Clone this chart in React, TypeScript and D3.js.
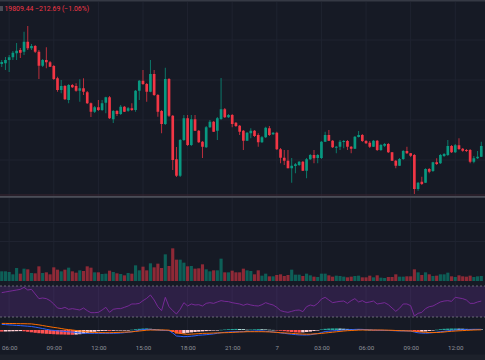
import { useEffect, useRef } from "react";
import * as d3 from "d3";

const W = 485;
const H = 360;
const BG = "#161a25";
const GRID = "#1f2330";
const UP = "#089981";
const DOWN = "#f23645";

const START = new Date(2024, 0, 6, 5, 30);
const STEP_MIN = 15;
const VIEW = [new Date(2024, 0, 6, 5, 23), new Date(2024, 0, 7, 14, 0)];

const HEADER = "19809.44 \u2212212.69 (\u22121.06%)";
const TIME_LABELS = ["06:00", "09:00", "12:00", "15:00", "18:00", "21:00", "7", "03:00", "06:00", "09:00", "12:00"];
const GRID_PRICES = [20240, 20080, 19920, 19760];

// open, high, low, close (15 min bars)
const OHLC: [number, number, number, number][] = [
  [20144, 20160, 20132, 20152], [20147, 20172, 20120, 20160], [20160, 20180, 20112, 20171], [20171, 20196, 20160, 20189],
  [20187, 20228, 20160, 20197], [20200, 20208, 20168, 20189], [20193, 20273, 20180, 20233], [20233, 20296, 20200, 20207],
  [20207, 20224, 20200, 20216], [20216, 20220, 20188, 20193], [20193, 20200, 20084, 20137], [20137, 20164, 20132, 20160],
  [20160, 20211, 20127, 20151], [20151, 20156, 20132, 20133], [20136, 20140, 20080, 20084], [20087, 20093, 20033, 20040],
  [20040, 20080, 20027, 20056], [20056, 20060, 20000, 20003], [20000, 20064, 19987, 20060], [20060, 20064, 20048, 20051],
  [20056, 20067, 20033, 20037], [20037, 20083, 19993, 20047], [20047, 20087, 20020, 20033], [20031, 20036, 19984, 19987],
  [19987, 19990, 19932, 19953], [19953, 19976, 19948, 19971], [19971, 20000, 19956, 19960], [19960, 20000, 19956, 19987],
  [19989, 20013, 19947, 20011], [20011, 20016, 19924, 19927], [19923, 19960, 19908, 19956], [19956, 19960, 19936, 19944],
  [19944, 19980, 19940, 19973], [19973, 19976, 19952, 19953], [19957, 19972, 19953, 19967], [19967, 19987, 19956, 19960],
  [19960, 20040, 19953, 20037], [20037, 20080, 20000, 20077], [20077, 20120, 20060, 20064], [20064, 20068, 19993, 20033],
  [20033, 20160, 20031, 20104], [20104, 20120, 20016, 20020], [20020, 20024, 19933, 19953], [19956, 19960, 19867, 19904],
  [19904, 20129, 19900, 20084], [20084, 20088, 19932, 19937], [19937, 19940, 19720, 19760], [19763, 19812, 19692, 19697],
  [19697, 19844, 19692, 19840], [19840, 19940, 19836, 19927], [19927, 19940, 19816, 19820], [19820, 19940, 19816, 19923],
  [19923, 19940, 19876, 19877], [19877, 19880, 19828, 19831], [19833, 19836, 19768, 19813], [19811, 19896, 19808, 19891],
  [19891, 19920, 19888, 19913], [19913, 19916, 19872, 19873], [19877, 19932, 19840, 19927], [19924, 20088, 19920, 19963],
  [19963, 19968, 19928, 19931], [19931, 19944, 19928, 19940], [19940, 19944, 19891, 19904], [19909, 19912, 19892, 19896],
  [19897, 19900, 19860, 19873], [19877, 19880, 19800, 19837], [19837, 19872, 19836, 19869], [19867, 19887, 19847, 19877],
  [19877, 19880, 19852, 19856], [19860, 19867, 19813, 19831], [19831, 19856, 19828, 19851], [19851, 19893, 19848, 19889],
  [19887, 19896, 19856, 19860], [19863, 19872, 19860, 19869], [19869, 19873, 19800, 19803], [19803, 19808, 19747, 19769],
  [19769, 19800, 19740, 19757], [19757, 19800, 19727, 19727], [19727, 19768, 19669, 19737], [19736, 19748, 19707, 19743],
  [19740, 19756, 19736, 19753], [19753, 19756, 19716, 19717], [19717, 19768, 19687, 19763], [19763, 19784, 19760, 19780],
  [19780, 19800, 19747, 19767], [19768, 19784, 19747, 19780], [19768, 19836, 19764, 19833], [19833, 19873, 19832, 19860],
  [19860, 19880, 19836, 19837], [19837, 19840, 19808, 19811], [19809, 19816, 19787, 19813], [19813, 19840, 19800, 19833],
  [19832, 19840, 19807, 19836], [19836, 19840, 19800, 19813], [19813, 19816, 19787, 19805], [19805, 19856, 19804, 19853],
  [19852, 19876, 19850, 19860], [19860, 19864, 19832, 19836], [19836, 19840, 19824, 19827], [19829, 19836, 19808, 19813],
  [19813, 19840, 19812, 19837], [19837, 19840, 19796, 19800], [19800, 19824, 19796, 19820], [19817, 19828, 19812, 19824],
  [19824, 19828, 19788, 19791], [19791, 19792, 19756, 19757], [19757, 19760, 19727, 19737], [19737, 19768, 19736, 19764],
  [19764, 19800, 19760, 19796], [19796, 19813, 19784, 19787], [19787, 19788, 19772, 19777], [19780, 19784, 19624, 19644],
  [19644, 19672, 19637, 19669], [19673, 19693, 19660, 19664], [19669, 19727, 19668, 19724], [19724, 19728, 19707, 19713],
  [19716, 19753, 19712, 19751], [19751, 19767, 19740, 19744], [19747, 19784, 19744, 19780], [19776, 19788, 19772, 19784],
  [19780, 19840, 19776, 19816], [19816, 19820, 19788, 19791], [19791, 19824, 19788, 19819], [19819, 19847, 19800, 19804],
  [19805, 19808, 19793, 19797], [19800, 19804, 19792, 19796], [19800, 19804, 19747, 19753], [19753, 19776, 19747, 19767],
  [19767, 19796, 19764, 19773], [19773, 19833, 19772, 19816],
];

const VOLUME = [
  29, 29, 27, 20, 39, 22, 37, 35, 24, 23, 44, 24, 26, 20, 41, 34, 29, 34, 40, 29, 25, 32, 30, 44, 40, 26, 26, 21, 22, 31,
  27, 23, 21, 17, 24, 22, 47, 32, 43, 32, 53, 41, 52, 39, 80, 45, 98, 64, 64, 55, 44, 45, 37, 38, 50, 35, 29, 32, 32, 67,
  26, 26, 31, 26, 26, 37, 32, 30, 20, 32, 16, 22, 14, 14, 18, 20, 15, 18, 34, 19, 19, 15, 22, 17, 13, 12, 22, 22, 17, 13,
  16, 15, 13, 11, 13, 15, 16, 11, 11, 16, 11, 17, 10, 9, 12, 12, 20, 13, 13, 14, 14, 35, 26, 18, 26, 20, 15, 16, 20, 20,
  25, 14, 12, 17, 14, 13, 16, 12, 14, 15,
];

const RSI = [
  61.4, 62.3, 63.1, 64.0, 64.8, 65.7, 68.3, 64.8, 65.7, 59.7, 53.7, 54.5, 53.7, 51.1, 46.8, 41.6, 40.8, 42.5, 39.9, 40.8,
  39.9, 39.0, 41.6, 38.2, 35.6, 35.6, 36.0, 39.0, 42.5, 36.0, 39.9, 40.8, 40.8, 42.5, 44.2, 46.8, 46.8, 47.6, 51.1, 54.1,
  58.4, 51.9, 43.3, 38.2, 55.4, 43.3, 38.2, 33.9, 39.9, 48.5, 44.2, 46.8, 45.5, 45.9, 44.2, 47.6, 48.5, 47.6, 49.4, 51.1,
  50.2, 49.8, 48.5, 47.6, 46.8, 45.1, 46.8, 45.5, 44.6, 44.2, 45.9, 48.5, 46.8, 45.5, 42.5, 38.2, 36.9, 36.0, 37.3, 38.6,
  39.0, 36.9, 43.3, 45.5, 44.2, 47.6, 53.2, 55.4, 51.9, 48.5, 49.4, 50.2, 50.6, 47.6, 51.1, 53.7, 49.4, 51.1, 48.5, 49.4,
  50.6, 46.8, 47.6, 48.5, 45.9, 41.6, 37.3, 41.2, 46.8, 46.8, 44.6, 31.3, 34.7, 36.0, 40.8, 43.3, 44.2, 46.8, 49.4, 50.6,
  51.1, 50.2, 55.4, 54.5, 53.7, 51.9, 47.6, 47.6, 49.4, 50.6,
];

const MACD = [
  5.6, 5.4, 5.1, 4.9, 4.6, 4.4, 4.1, 3.8, 3.5, 2.9, 2.2, 1.5, 0.7, 0, -0.4, -0.8, -1.1, -1.5, -1.8, -2.1,
  -2.5, -2.9, -3.3, -3.3, -3.3, -3.3, -3.3, -3.3, -3.3, -3.3, -3.3, -3.2, -3.0, -2.7, -2.2, -1.8, -1.0, -0.2, 0.3, 0.7,
  0.5, 0.2, 0, -0.3, -0.5, -0.6, -3.0, -6.0, -6.3, -6.7, -6.5, -6.2, -5.8, -5.2, -5.0, -4.7, -4.3, -3.9, -3.3, -2.7,
  -2.3, -2.0, -1.8, -1.7, -1.6, -1.6, -1.4, -1.2, -1.0, -0.8, -0.9, -1.2, -1.6, -2.0, -2.4, -2.9, -3.3, -3.8, -4.2, -4.6,
  -4.9, -5.0, -5.0, -4.8, -4.2, -3.6, -2.6, -1.5, -1.2, -0.9, -0.6, -0.2, 0, 0.2, 0.4, 0.6, 0.7, 0.6, 0.4, 0.2,
  0, -0.2, -0.3, -0.4, -0.5, -0.6, -0.8, -0.9, -0.9, -1.0, -1.1, -2.0, -2.8, -3.1, -3.2, -3.0, -2.6, -2.2, -1.7, -1.3,
  -0.8, -0.4, -0.1, 0.1, 0.3, 0.5, 0.6, 0.7, 0.7, 0.7,
];

const SIGNAL = [
  6.6, 6.6, 6.5, 6.5, 6.4, 6.3, 6.3, 6.2, 6.1, 5.6, 5.1, 4.5, 3.8, 3.2, 2.6, 2.1, 1.5, 0.8, 0.4, 0,
  -0.5, -0.9, -1.3, -1.9, -2.3, -2.5, -2.6, -2.6, -2.7, -2.7, -2.6, -2.4, -2.3, -2.1, -2.0, -1.8, -1.4, -1.0, -0.6, -0.2,
  0, 0, 0, 0, 0, -0.2, -1.0, -2.7, -3.3, -4.0, -4.3, -4.1, -3.9, -3.6, -3.4, -3.3, -3.2, -3.0, -2.9, -2.8,
  -2.7, -2.6, -2.4, -2.2, -2.0, -1.9, -1.7, -1.7, -1.7, -1.7, -1.7, -1.8, -1.9, -2.1, -2.4, -2.7, -2.9, -3.1, -3.3, -3.6,
  -3.9, -4.1, -4.2, -4.2, -3.9, -3.7, -3.4, -3.0, -2.6, -2.2, -1.8, -1.4, -1.0, -0.7, -0.5, -0.3, -0.1, 0, 0, 0,
  0, 0, 0, -0.1, -0.2, -0.3, -0.5, -0.7, -0.8, -0.9, -1.0, -1.3, -1.6, -2.0, -2.3, -2.5, -2.6, -2.5, -2.3, -2.0,
  -1.6, -1.3, -1.0, -0.8, -0.6, -0.4, -0.2, 0, 0.1, 0.2,
];

const HIST = [
  -1.6, -1.5, -1.4, -1.3, -1.2, -1.1, -1.3, -1.8, -2.3, -2.8, -3.2, -3.5, -3.8, -4.0, -4.2, -4.4, -4.5, -4.6, -4.7, -4.8,
  -4.6, -4.2, -3.6, -3.0, -2.4, -1.8, -1.2, -1.0, -0.9, -1.1, -0.8, -0.6, -0.4, -0.3, -0.1, 0.3, 0.8, 1.2, 1.5, 1.6,
  1.2, 0.9, 0.5, 0.2, -0.2, -0.4, -2.0, -3.5, -3.8, -3.4, -2.8, -2.4, -2.0, -1.7, -1.4, -1.1, -0.8, -0.6, -0.3, 0.2,
  0.5, 0.8, 1.0, 1.1, 1.0, 0.9, 0.3, 0.5, 0.7, 0.9, 0.8, 0.6, 0.3, 0.1, -0.2, -0.8, -1.2, -1.6, -2.0, -2.4,
  -2.6, -2.4, -2.0, -1.6, -1.0, -0.4, 0.6, 1.2, 1.5, 1.6, 1.6, 1.5, 1.3, 1.1, 0.9, 0.9, 0.8, 0.6, 0.4, 0.2,
  -0.1, -0.3, -0.3, -0.3, -0.3, -0.3, -0.4, -0.3, -0.2, -0.2, -0.3, -1.2, -2.0, -1.8, -1.5, -1.0, -0.4, 0.3, 0.8, 1.2,
  1.4, 1.5, 1.5, 1.4, 1.3, 1.1, 0.9, 0.8, 0.7, 0.6,
];

export default function App() {
  const axisRef = useRef<SVGGElement>(null);

  const times = OHLC.map((_, i) => d3.timeMinute.offset(START, i * STEP_MIN));
  const x = d3.scaleTime().domain(VIEW).range([0, W]);
  const step = x(times[1]) - x(times[0]);
  const yP = d3.scaleLinear().domain([19620, 20392]).range([195, 2]);
  const yV = d3.scaleLinear().domain([0, 300]).range([281, 181]);
  const yR = d3.scaleLinear().domain([30, 70]).range([317, 286]);
  const yM = d3.scaleLinear().domain([-10, 10]).range([340, 320]);
  const ticks = x.ticks(d3.timeHour.every(3)!);

  const rsiLine = d3.line<number>().x((_, i) => x(times[i])).y((d) => yR(d))(RSI) || "";
  const macdLine = d3.line<number>().x((_, i) => x(times[i])).y((d) => yM(d))(MACD) || "";
  const sigLine = d3.line<number>().x((_, i) => x(times[i])).y((d) => yM(d))(SIGNAL) || "";

  useEffect(() => {
    document.body.style.margin = "0";
    if (!axisRef.current) return;
    const g = d3.select(axisRef.current);
    g.selectAll("*").remove();
    g.call(
      d3
        .axisBottom(x)
        .tickValues(ticks)
        .tickSize(0)
        .tickPadding(5)
        .tickFormat((_, i) => TIME_LABELS[i] ?? "")
    );
    g.select(".domain").remove();
    g.selectAll("text")
      .attr("fill", "#8f929b")
      .attr("font-size", "6.2px")
      .attr("font-family", "Roboto, sans-serif");
  }, []);

  const histColor = (i: number) => {
    const h = HIST[i];
    const prev = i > 0 ? HIST[i - 1] : h;
    if (h >= 0) return h >= prev ? "#26a69a" : "#b2dfdb";
    return h <= prev ? "#ff5252" : "#ffcdd2";
  };

  return (
    <svg width={W} height={H} style={{ position: "fixed", left: 0, top: 0, display: "block" }}>
      <defs>
        <clipPath id="main-clip">
          <rect x={0} y={2} width={W} height={193} />
        </clipPath>
        <clipPath id="rsi-clip">
          <rect x={0} y={283} width={W} height={37} />
        </clipPath>
        <clipPath id="macd-clip">
          <rect x={0} y={320} width={W} height={20} />
        </clipPath>
      </defs>
      <rect width={W} height={H} fill={BG} />
      <rect x={0} y={0} width={W} height={1.5} fill="#353944" />

      {/* grid */}
      {ticks.map((t, i) => (
        <line key={"vg" + i} x1={x(t)} x2={x(t)} y1={2} y2={340} stroke={GRID} strokeWidth={1} />
      ))}
      {GRID_PRICES.map((p) => (
        <line key={"hg" + p} x1={0} x2={W} y1={yP(p)} y2={yP(p)} stroke={GRID} strokeWidth={1} />
      ))}
      <line x1={0} x2={W} y1={222.5} y2={222.5} stroke={GRID} />
      <line x1={0} x2={W} y1={241.5} y2={241.5} stroke={GRID} />

      {/* header */}
      <rect x={0} y={6} width={3} height={5} fill="#4a4d57" />
      <text x={4.5} y={10.8} fill={DOWN} fontSize={6.9} fontFamily="Roboto, sans-serif">
        {HEADER}
      </text>

      {/* candles */}
      <g clipPath="url(#main-clip)">
        {OHLC.map(([o, h, l, c], i) => {
          const cx = x(times[i]);
          const col = c >= o ? UP : DOWN;
          const top = yP(Math.max(o, c));
          const bh = Math.max(1, yP(Math.min(o, c)) - top);
          return (
            <g key={"c" + i}>
              <line x1={cx} x2={cx} y1={yP(h)} y2={yP(l)} stroke={col} strokeWidth={1} opacity={0.75} />
              <rect x={cx - step * 0.36} y={top} width={step * 0.72} height={bh} fill={col} />
            </g>
          );
        })}
      </g>

      {/* pane separator */}
      <line x1={0} x2={W} y1={195} y2={195} stroke="#3a2430" strokeWidth={1} />
      <rect x={0} y={196} width={W} height={1.8} fill="#4a4d57" />

      {/* volume */}
      {VOLUME.map((v, i) => {
        const [o, , , c] = OHLC[i];
        return (
          <rect
            key={"v" + i}
            x={x(times[i]) - step * 0.42}
            y={yV(v)}
            width={step * 0.84}
            height={yV(0) - yV(v)}
            fill={c >= o ? UP : DOWN}
            opacity={0.55}
          />
        );
      })}

      {/* RSI */}
      <rect x={0} y={yR(70)} width={W} height={yR(30) - yR(70)} fill="rgba(140,60,200,0.2)" />
      <line x1={0} x2={W} y1={yR(70)} y2={yR(70)} stroke="#787b86" strokeDasharray="2 2" strokeWidth={0.8} />
      <line x1={0} x2={W} y1={yR(30)} y2={yR(30)} stroke="#787b86" strokeDasharray="2 2" strokeWidth={0.8} />
      <path d={rsiLine} clipPath="url(#rsi-clip)" fill="none" stroke="#7e2a9e" strokeWidth={0.9} />

      {/* MACD */}
      <g clipPath="url(#macd-clip)">
        {HIST.map((h, i) => (
          <rect
            key={"h" + i}
            x={x(times[i]) - step * 0.45}
            y={Math.min(yM(0), yM(h))}
            width={step * 0.9}
            height={Math.max(0.6, Math.abs(yM(h) - yM(0)))}
            fill={histColor(i)}
          />
        ))}
        <path d={macdLine} fill="none" stroke="#2962ff" strokeWidth={1} />
        <path d={sigLine} fill="none" stroke="#ff6d00" strokeWidth={1} />
      </g>

      {/* time axis */}
      <g ref={axisRef} transform="translate(0,341)" />
      <rect x={0} y={354.5} width={W} height={5.5} fill="#1d212b" />
    </svg>
  );
}
